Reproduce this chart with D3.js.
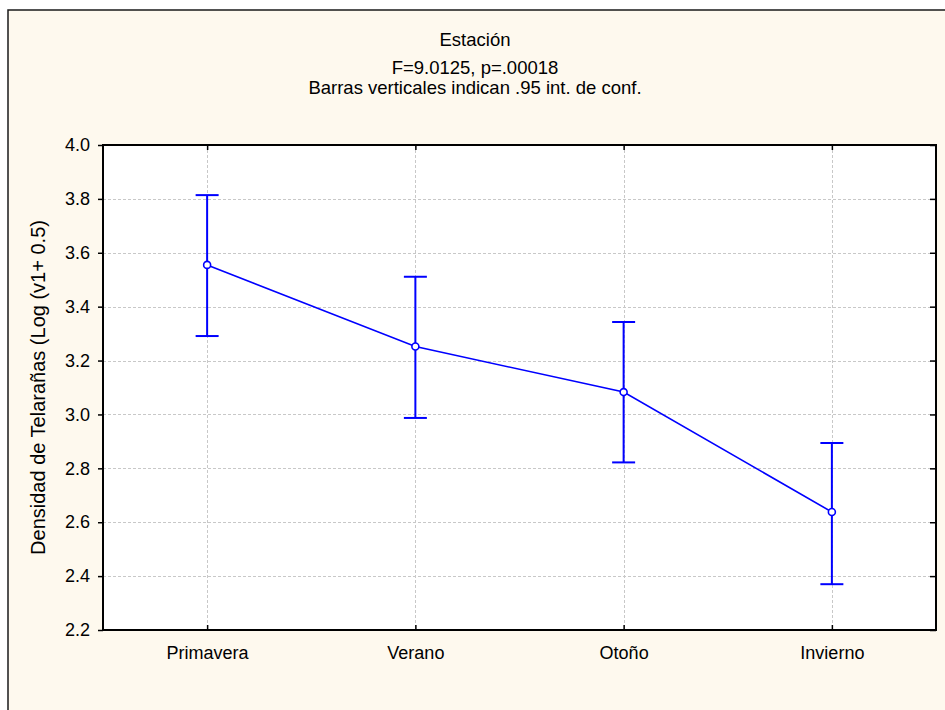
<!DOCTYPE html>
<html>
<head>
<meta charset="utf-8">
<script src="https://cdn.jsdelivr.net/npm/d3@7"></script>
<style>
  html, body { margin: 0; padding: 0; background: #ffffff; }
  svg text { font-family: "Liberation Sans", Arial, sans-serif; fill: #000; }
</style>
</head>
<body>
<svg id="chart" width="945" height="710"></svg>
<script>
// Seasonal means of web density with 95% confidence intervals
const seasons = ["Primavera", "Verano", "Otoño", "Invierno"];
const means = [3.555, 3.252, 3.083, 2.638];
const lower = [3.291, 2.987, 2.822, 2.370];
const upper = [3.814, 3.511, 3.343, 2.894];
const yTicks = [2.2, 2.4, 2.6, 2.8, 3.0, 3.2, 3.4, 3.6, 3.8, 4.0];
const titleLines = ["Estación", "F=9.0125, p=.00018", "Barras verticales indican .95 int. de conf."];
const yTitle = "Densidad de Telarañas (Log (v1+ 0.5)";

const svg = d3.select("#chart");
const W = 945, H = 710;
const plot = { left: 103, top: 145, right: 936, bottom: 630 };

// Cream page frame
svg.append("rect").attr("x", 0).attr("y", 0).attr("width", W).attr("height", H).attr("fill", "#ffffff");
svg.append("rect").attr("x", 8).attr("y", 10).attr("width", W).attr("height", H)
  .attr("fill", "#fef9ee").attr("stroke", "#1a1a1a").attr("stroke-width", 1.5);

// Plot area
svg.append("rect").attr("x", plot.left).attr("y", plot.top)
  .attr("width", plot.right - plot.left).attr("height", plot.bottom - plot.top)
  .attr("fill", "#ffffff");

const x = d3.scalePoint().domain(seasons).range([plot.left, plot.right]).padding(0.5);
const y = d3.scaleLinear().domain([2.2, 4.0]).range([plot.bottom, plot.top]);

// Grid lines
const grid = svg.append("g").attr("stroke", "#c8c8c8").attr("stroke-width", 1)
  .attr("stroke-dasharray", "3,2");
grid.selectAll("line.h").data(yTicks.slice(1, -1)).join("line")
  .attr("x1", plot.left).attr("x2", plot.right)
  .attr("y1", d => Math.round(y(d)) + 0.5).attr("y2", d => Math.round(y(d)) + 0.5);
grid.selectAll("line.v").data(seasons).join("line")
  .attr("y1", plot.top).attr("y2", plot.bottom)
  .attr("x1", d => Math.round(x(d)) + 0.5).attr("x2", d => Math.round(x(d)) + 0.5);

// Axes
const yAxis = d3.axisLeft(y).tickValues(yTicks).tickFormat(d3.format(".1f")).tickSize(5).tickPadding(8);
const gy = svg.append("g").attr("transform", `translate(${plot.left},0)`).call(yAxis);
gy.select(".domain").remove();
gy.selectAll("text").attr("font-size", 18);
gy.selectAll("line").attr("stroke", "#000").attr("stroke-width", 1.5);

const yAxisR = d3.axisLeft(y).tickValues(yTicks).tickFormat("").tickSize(6);
const gyr = svg.append("g").attr("transform", `translate(${plot.right},0)`).call(yAxisR);
gyr.select(".domain").remove();
gyr.selectAll("line").attr("stroke", "#000").attr("stroke-width", 1.5);

const xAxis = d3.axisBottom(x).tickSize(-5).tickPadding(16);
const gx = svg.append("g").attr("transform", `translate(0,${plot.bottom})`).call(xAxis);
gx.select(".domain").remove();
gx.selectAll("text").attr("font-size", 18);
gx.selectAll("line").attr("stroke", "#000").attr("stroke-width", 1.5);

const xAxisT = d3.axisTop(x).tickSize(-5).tickFormat("");
const gxt = svg.append("g").attr("transform", `translate(0,${plot.top})`).call(xAxisT);
gxt.select(".domain").remove();
gxt.selectAll("line").attr("stroke", "#000").attr("stroke-width", 1.5);

// Plot frame
svg.append("rect").attr("x", plot.left).attr("y", plot.top)
  .attr("width", plot.right - plot.left).attr("height", plot.bottom - plot.top)
  .attr("fill", "none").attr("stroke", "#000").attr("stroke-width", 2);

// Confidence interval bars
const blue = "#0000ff";
const rows = seasons.map((s, i) => ({ s, m: means[i], lo: lower[i], hi: upper[i] }));
const ci = svg.append("g").attr("stroke", blue).attr("stroke-width", 2);
ci.selectAll("line.stem").data(rows).join("line")
  .attr("x1", d => x(d.s)).attr("x2", d => x(d.s))
  .attr("y1", d => y(d.lo)).attr("y2", d => y(d.hi));
ci.selectAll("line.capHi").data(rows).join("line")
  .attr("x1", d => x(d.s) - 11.5).attr("x2", d => x(d.s) + 11.5)
  .attr("y1", d => y(d.hi)).attr("y2", d => y(d.hi));
ci.selectAll("line.capLo").data(rows).join("line")
  .attr("x1", d => x(d.s) - 11.5).attr("x2", d => x(d.s) + 11.5)
  .attr("y1", d => y(d.lo)).attr("y2", d => y(d.lo));

// Mean line
svg.append("path").datum(rows)
  .attr("fill", "none").attr("stroke", blue).attr("stroke-width", 1.6)
  .attr("d", d3.line().x(d => x(d.s)).y(d => y(d.m)));

// Mean markers
svg.selectAll("circle.mean").data(rows).join("circle")
  .attr("cx", d => x(d.s)).attr("cy", d => y(d.m)).attr("r", 3.5)
  .attr("fill", "#ffffff").attr("stroke", blue).attr("stroke-width", 1.6);

// Titles
svg.selectAll("text.title").data(titleLines).join("text")
  .attr("x", 475).attr("y", (d, i) => [46, 74, 94][i])
  .attr("text-anchor", "middle").attr("font-size", 18.5).text(d => d);

// Y axis title
svg.append("text")
  .attr("transform", `translate(45,${(plot.top + plot.bottom) / 2}) rotate(-90)`)
  .attr("text-anchor", "middle").attr("font-size", 20).text(yTitle);
</script>
</body>
</html>
